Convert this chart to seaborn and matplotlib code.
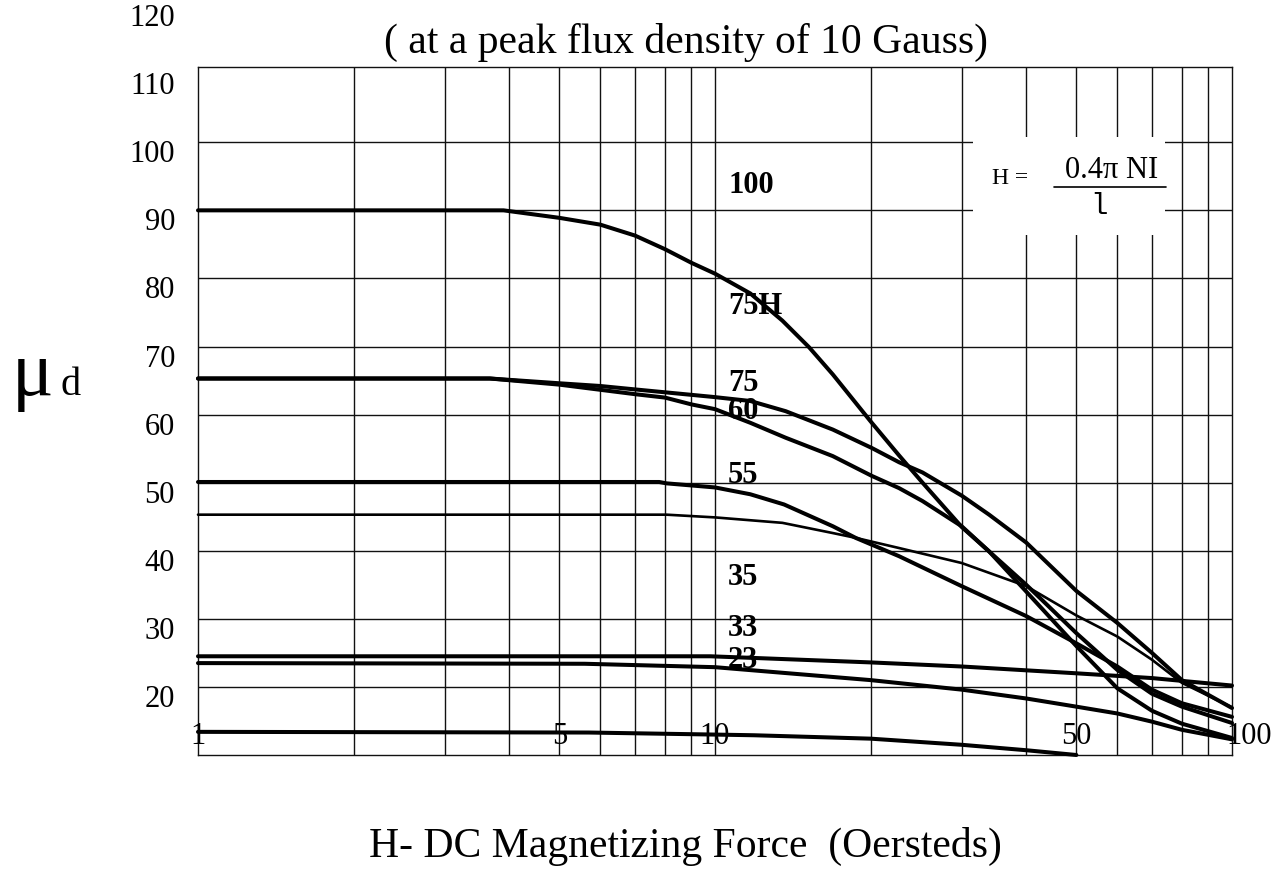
import numpy as np
import pandas as pd
import matplotlib
matplotlib.use("Agg")
import matplotlib.pyplot as plt
import seaborn as sns
from matplotlib.patches import Rectangle
from matplotlib.transforms import offset_copy, blended_transform_factory

# ---------------- data ----------------
H_100 = [1, 3.9, 5, 6, 7, 8, 9, 10, 11.7, 13.5, 15.2, 16.9, 20, 22.7, 25.2, 30, 33.9, 40, 50, 60, 70, 80, 100]
mu_100 = [90, 90, 88.9, 87.9, 86.3, 84.3, 82.3, 80.7, 77.8, 73.8, 69.9, 65.9, 59.0, 54.0, 50.0, 43.5, 39.9, 34.0, 26.0, 19.8, 16.5, 14.6, 12.5]

H_75 = [1, 3.67, 5, 6, 7, 9.9, 11.7, 13.7, 16.9, 20.1, 22.7, 25.2, 30, 33.9, 40, 50, 60, 70, 80, 100]
mu_75 = [65.3, 65.3, 64.6, 64.2, 63.7, 62.6, 62.0, 60.5, 57.8, 55.1, 53.0, 51.5, 48.1, 45.3, 41.2, 34.1, 29.4, 25.0, 21.0, 16.9]

H_60 = [1, 3.67, 5, 7, 8, 9, 10, 11.7, 13.7, 16.9, 20.1, 22.7, 25.2, 30, 33.9, 40, 50, 60, 70, 80, 100]
mu_60 = [65.3, 65.3, 64.4, 63.0, 62.5, 61.5, 60.8, 58.8, 56.6, 53.9, 51.0, 49.2, 47.3, 43.6, 39.9, 35.0, 27.9, 22.5, 19.0, 17.1, 14.7]

H_55 = [1, 7.8, 8.06, 10, 11.7, 13.6, 16.9, 18.7, 22.7, 30, 40, 50, 60, 70, 80, 100]
mu_55 = [50.1, 50.1, 49.9, 49.3, 48.3, 46.8, 43.6, 41.9, 39.2, 34.8, 30.4, 26.4, 23.0, 19.6, 17.6, 15.6]

H_35 = [1, 8.06, 10, 13.5, 16.9, 18.7, 22.7, 30, 40, 50, 60, 70, 80, 100]
mu_35 = [45.3, 45.3, 44.9, 44.1, 42.6, 41.9, 40.4, 38.2, 34.8, 30.5, 27.4, 24.0, 20.6, 17.0]

H_33 = [1, 9.8, 20, 30, 50, 70, 100]
mu_33 = [24.5, 24.5, 23.6, 23.0, 22.0, 21.3, 20.2]

H_23 = [1, 5.6, 10, 20, 30, 40, 50, 60, 70, 80, 100]
mu_23 = [23.5, 23.4, 22.9, 21.0, 19.6, 18.3, 17.1, 16.1, 14.9, 13.7, 12.3]

H_low = [1, 5.7, 10, 11.9, 20, 30, 40, 50]
mu_low = [13.4, 13.3, 13.0, 12.9, 12.4, 11.5, 10.7, 10.0]

curve_labels = ["100", "75H", "75", "60", "55", "35", "33", "23"]
curve_label_H = [10.6, 10.6, 10.6, 10.6, 10.6, 10.6, 10.6, 10.6]
curve_label_mu = [93.7, 75.9, 64.6, 60.5, 51.1, 36.1, 28.6, 23.9]

y_tick_values = [20, 30, 40, 50, 60, 70, 80, 90, 100, 110, 120]
y_tick_labels = ["20", "30", "40", "50", "60", "70", "80", "90", "100", "110", "120"]
x_tick_values = [1, 5, 10, 50, 100]
x_tick_labels = ["1", "5", "10", "50", "100"]

x_grid = [2, 3, 4, 5, 6, 7, 8, 9, 10, 20, 30, 40, 50, 60, 70, 80, 90]
y_grid = [20, 30, 40, 50, 60, 70, 80, 90, 100]

title_text = "( at a peak flux density of 10 Gauss)"
xlabel_text = "H- DC Magnetizing Force  (Oersteds)"

# ---------------- plotting ----------------
sns.set_theme(style="white")
plt.rcParams["font.family"] = ["Liberation Serif", "DejaVu Serif"]
plt.rcParams["text.color"] = "black"
plt.rcParams["axes.labelcolor"] = "black"

W, Hpx = 1277, 869
fig = plt.figure(figsize=(W / 100, Hpx / 100), dpi=100)
L, R, T, B = 198, 1232, 66.7, 755
ax = fig.add_axes([L / W, 1 - B / Hpx, (R - L) / W, (B - T) / Hpx])
ax.set_xscale("log")
ax.set_xlim(1, 100)
ax.set_ylim(10, 111.1)

curves = [
    (H_100, mu_100, 2.9), (H_75, mu_75, 2.9), (H_60, mu_60, 2.9),
    (H_55, mu_55, 2.9), (H_35, mu_35, 1.9), (H_33, mu_33, 2.9),
    (H_23, mu_23, 2.9), (H_low, mu_low, 2.9),
]
for xs, ys, lw in curves:
    df = pd.DataFrame({"H": xs, "mu": ys})
    sns.lineplot(data=df, x="H", y="mu", ax=ax, color="black", lw=lw,
                 estimator=None, sort=False, zorder=3, clip_on=False)

# grid
ax.set_xticks(x_grid)
ax.set_xticks([], minor=True)
ax.set_yticks(y_grid)
ax.set_xticklabels([])
ax.set_yticklabels([])
ax.tick_params(length=0)
ax.set_axisbelow(True)
ax.grid(True, color="#111111", lw=1.0)
for s in ax.spines.values():
    s.set_color("#111111")
    s.set_linewidth(1.0)
ax.set_xlabel("")
ax.set_ylabel("")

# curve labels
for lab, hx, my in zip(curve_labels, curve_label_H, curve_label_mu):
    ax.text(hx, my, lab, ha="left", va="center", fontsize=22,
            fontweight="bold", zorder=4)

# y tick labels (offset below their gridline as in the reference)
ty = offset_copy(blended_transform_factory(ax.transAxes, ax.transData),
                 fig=fig, x=-23, y=-12.5, units="dots")
for v, lab in zip(y_tick_values, y_tick_labels):
    ax.text(0, v, lab, transform=ty, ha="right", va="center",
            fontsize=22, clip_on=False)

# x tick labels inside the plot near the bottom
for v, lab in zip(x_tick_values, x_tick_labels):
    dx = 17 if lab == "100" else 0
    tx = offset_copy(blended_transform_factory(ax.transData, ax.transAxes),
                     fig=fig, x=dx, y=19, units="dots")
    ax.text(v, 0, lab, transform=tx, ha="center", va="center",
            fontsize=22, zorder=4, clip_on=False)

# formula box
def axfrac(px, py):
    return (px - L) / (R - L), (B - py) / (B - T)

x0, y0 = axfrac(972.7, 235)
x1, y1 = axfrac(1165, 136.7)
ax.add_patch(Rectangle((x0, y0), x1 - x0, y1 - y0, transform=ax.transAxes,
                       facecolor="white", edgecolor="none", zorder=1.5))
ax.text(*axfrac(991.7, 179), "H =", transform=ax.transAxes, ha="left",
        va="center", fontsize=17, zorder=4)
ax.text(*axfrac(1065, 171), "0.4\u03c0 NI", transform=ax.transAxes, ha="left",
        va="center", fontsize=22, zorder=4)
fx0, fy = axfrac(1054, 186.7)
fx1, _ = axfrac(1165.7, 186.7)
ax.plot([fx0, fx1], [fy, fy], transform=ax.transAxes, color="black", lw=1.2, zorder=4)
ax.text(*axfrac(1099, 206), "l", transform=ax.transAxes, ha="center",
        va="center", fontsize=21, family="Liberation Mono", zorder=4)

# title, x label, y label
fig.text(686 / W, 1 - 42 / Hpx, title_text, ha="center", va="center", fontsize=30)
fig.text(685 / W, 1 - 846 / Hpx, xlabel_text, ha="center", va="center", fontsize=30)
fig.text(12 / W, 1 - 395 / Hpx, "\u03bc", ha="left", va="baseline", fontsize=56)
fig.text(60 / W, 1 - 395 / Hpx, "d", ha="left", va="baseline", fontsize=29)

fig.savefig("out.png", dpi=100, facecolor="white")
